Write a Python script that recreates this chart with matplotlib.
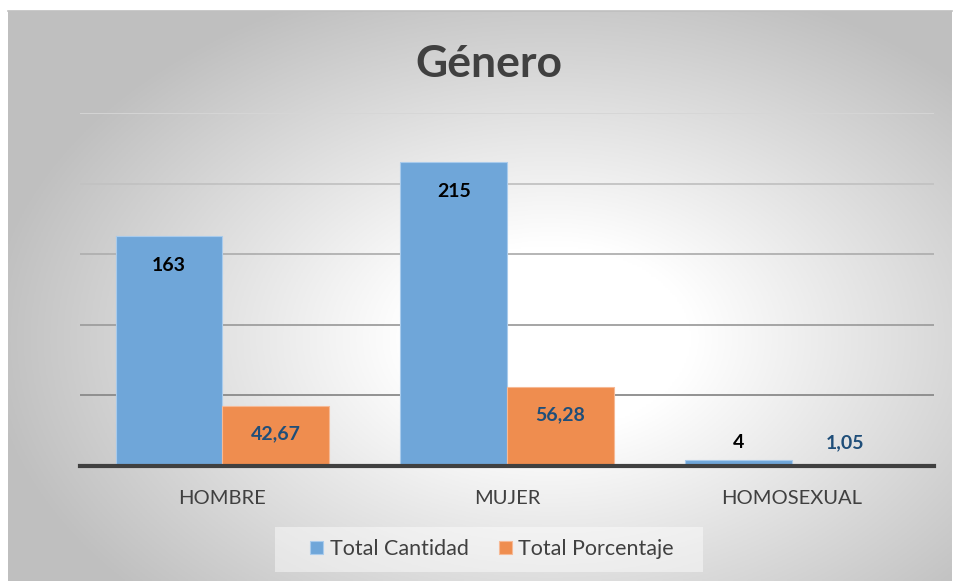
import numpy as np
import matplotlib.pyplot as plt
from matplotlib.patches import Rectangle

# Data
categories = ['HOMBRE', 'MUJER', 'HOMOSEXUAL']
total_cantidad = [163, 215, 4]
total_porcentaje = [42.67, 56.28, 1.05]
porcentaje_labels = ['42,67', '56,28', '1,05']
y_ticks = [0, 50, 100, 150, 200, 250]

plt.rcParams['font.family'] = ['Lato', 'DejaVu Sans']

W, H = 957, 581
fig = plt.figure(figsize=(W / 100, H / 100), dpi=100)
fig.patch.set_facecolor('white')

# Chart area background: radial-ish gradient, white centre, grey edges
bg = fig.add_axes([8 / W, 0, (952 - 8) / W, (H - 11) / H], zorder=0)
gx, gy = np.meshgrid(np.linspace(-1, 1, 400), np.linspace(-1, 1, 250))
r = np.sqrt(((gx - 0.15) / 1.0) ** 2 + ((gy - 0.15) / 1.1) ** 2)
shade = 1.0 - 0.25 * np.clip((r - 0.3) / 0.9, 0, 1)
bg.imshow(np.dstack([shade] * 3), aspect='auto', extent=[0, 1, 0, 1])
bg.set_xlim(0, 1)
bg.set_ylim(0, 1)
for s in bg.spines.values():
    s.set_visible(False)
bg.spines['top'].set_visible(True)
bg.spines['top'].set_color('#bfbfbf')
bg.spines['top'].set_linewidth(1.2)
bg.set_xticks([])
bg.set_yticks([])

ax = fig.add_axes([80 / W, (H - 466) / H, (934 - 80) / W, (466 - 113) / H], zorder=1)
ax.patch.set_alpha(0)

x = np.arange(len(categories))
w = 0.375
blue = '#6fa6d9'
orange = '#ef8d4f'
b1 = ax.bar(x - w / 2, total_cantidad, w, color=blue, edgecolor='#a9cbec', linewidth=0.8,
            label='Total Cantidad', zorder=3)
b2 = ax.bar(x + w / 2, total_porcentaje, w, color=orange, edgecolor='#f6b995', linewidth=0.8,
            label='Total Porcentaje', zorder=3)

ax.set_xlim(-0.5, 2.5)
ax.set_ylim(0, 250)
ax.set_yticks(y_ticks)
ax.yaxis.grid(True, linewidth=1.3, zorder=1)
grid_colors = ['#404040', '#8a8a8a', '#9e9e9e', '#b0b0b0', '#c2c2c2', '#d6d6d6']
for gl, c in zip(ax.yaxis.get_gridlines(), grid_colors):
    gl.set_color(c)
ax.tick_params(axis='y', left=False, labelleft=False)
ax.tick_params(axis='x', bottom=False, labelsize=14.5, labelcolor='#404040', pad=14)
ax.set_xticks(x)
ax.set_xticklabels(categories)
for s in ['top', 'right', 'left']:
    ax.spines[s].set_visible(False)
ax.spines['bottom'].set_color('#404040')
ax.spines['bottom'].set_linewidth(3)
ax.spines['bottom'].set_zorder(4)

# Data labels
for rect, v in zip(b1, total_cantidad):
    cx = rect.get_x() + rect.get_width() / 2
    dy = -21 if v > 20 else 13
    ax.annotate(str(v), (cx, v), xytext=(0, dy), textcoords='offset points',
                ha='center', va='center', fontsize=14, fontweight='bold', color='black', zorder=5)
for rect, v, lab in zip(b2, total_porcentaje, porcentaje_labels):
    cx = rect.get_x() + rect.get_width() / 2
    dy = -20 if v > 20 else 16
    ax.annotate(lab, (cx, v), xytext=(0, dy), textcoords='offset points',
                ha='center', va='center', fontsize=14, fontweight='bold', color='#1f4e79', zorder=5)

fig.text(489 / W, 1 - 64 / H, 'Género', ha='center', va='center', fontsize=32,
         fontweight='bold', color='#404040', zorder=5)

# Legend with a light box behind it
fig.patches.append(Rectangle((275 / W, 1 - 572 / H), (703 - 275) / W, 45 / H,
                             transform=fig.transFigure, facecolor='white', alpha=0.45,
                             edgecolor='none', zorder=1))
leg = fig.legend(handles=[b1, b2], loc='center', bbox_to_anchor=(492 / W, 1 - 549 / H),
                 ncol=2, frameon=False, fontsize=15.5, handlelength=0.6, handleheight=0.6,
                 handletextpad=0.3, columnspacing=1.4)
for t in leg.get_texts():
    t.set_color('#404040')

fig.savefig('out.png', dpi=100)
